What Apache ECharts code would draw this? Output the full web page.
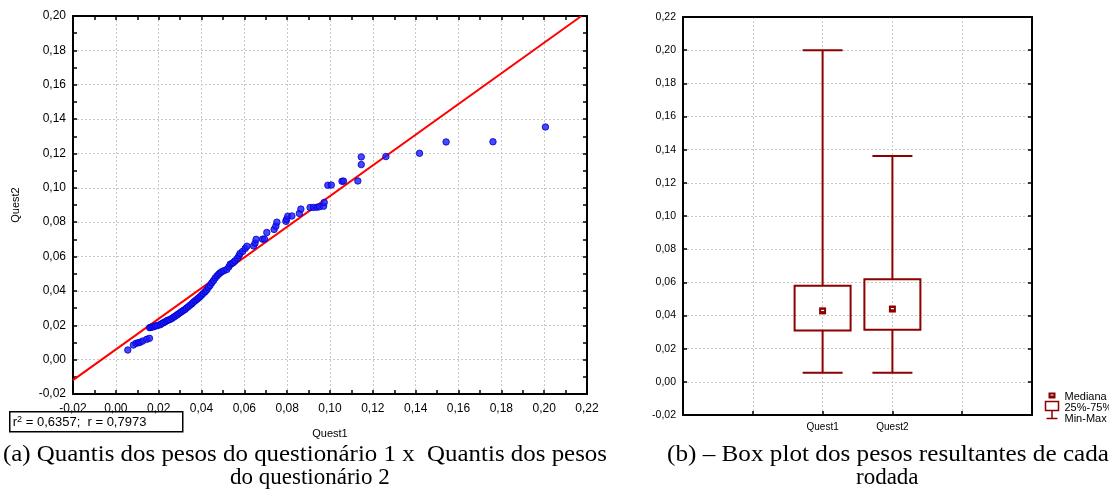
<!DOCTYPE html>
<html>
<head>
<meta charset="utf-8">
<script src="https://cdn.jsdelivr.net/npm/echarts@6/dist/echarts.min.js"></script>
<style>html,body{margin:0;padding:0;background:#fff;}#c{width:1109px;height:495px;}</style>
</head>
<body>
<div id="c"></div>
<script>
// ---- Data ----
var quest1Quantiles = [0.0056,0.0082,0.0094,0.0105,0.0113,0.0125,0.0144,0.0157,0.0158,0.0163,0.0170,0.0178,0.0185,0.0195,0.0207,0.0215,0.0222,0.0230,0.0238,0.0245,0.0253,0.0262,0.0270,0.0277,0.0285,0.0292,0.0300,0.0308,0.0315,0.0323,0.0330,0.0338,0.0347,0.0355,0.0362,0.0370,0.0378,0.0385,0.0393,0.0400,0.0408,0.0417,0.0424,0.0432,0.0440,0.0448,0.0456,0.0464,0.0472,0.0480,0.0487,0.0495,0.0505,0.0518,0.0528,0.0534,0.0542,0.0549,0.0556,0.0568,0.0575,0.0580,0.0592,0.0604,0.0612,0.0643,0.0650,0.0655,0.0685,0.0694,0.0705,0.0739,0.0747,0.0752,0.0794,0.0797,0.0803,0.0822,0.0857,0.0864,0.0907,0.0923,0.0939,0.0951,0.0970,0.0973,0.0990,0.1006,0.1056,0.1063,0.1130,0.1146,0.1146,0.1261,0.1418,0.1542,0.1761,0.2006];
var quest2Quantiles = [0.0056,0.0085,0.0095,0.0098,0.0101,0.0108,0.0118,0.0124,0.0186,0.0188,0.0190,0.0192,0.0196,0.0199,0.0203,0.0210,0.0215,0.0220,0.0226,0.0230,0.0234,0.0240,0.0247,0.0253,0.0260,0.0266,0.0273,0.0280,0.0286,0.0292,0.0300,0.0308,0.0317,0.0325,0.0334,0.0342,0.0350,0.0358,0.0366,0.0375,0.0385,0.0395,0.0405,0.0420,0.0432,0.0447,0.0460,0.0475,0.0487,0.0497,0.0505,0.0512,0.0518,0.0525,0.0540,0.0555,0.0560,0.0565,0.0575,0.0590,0.0605,0.0618,0.0630,0.0647,0.0660,0.0662,0.0678,0.0700,0.0701,0.0702,0.0740,0.0758,0.0777,0.0800,0.0805,0.0816,0.0835,0.0836,0.0851,0.0876,0.0885,0.0886,0.0887,0.0890,0.0893,0.0915,0.1015,0.1016,0.1038,0.1039,0.1040,0.1135,0.1180,0.1182,0.1201,0.1267,0.1268,0.1354];
var fitLineX = [-0.02, 0.2174];
var fitLineY = [-0.0119, 0.20];
var statsText = ['0,6357', '0,7973'];

var boxCategories = ['Quest1', 'Quest2'];
var boxPositions = [2, 3];
var boxMin = [0.0055, 0.0055];
var boxQ1 = [0.0310, 0.0314];
var boxMedian = [0.0428, 0.0439];
var boxQ3 = [0.0579, 0.0619];
var boxMax = [0.2000, 0.1362];
var legendLabels = ['Mediana', '25%-75%', 'Min-Max'];

var leftTicks = {min: -0.02, max: 0.22, interval: 0.02};
var leftYTicks = {min: -0.02, max: 0.20, interval: 0.02};
var rightYTicks = {min: -0.02, max: 0.22, interval: 0.02};

// ---- Build ----
function fmt(v) { return v.toFixed(2).replace('.', ','); }
var scatterData = quest1Quantiles.map(function (x, i) { return [x, quest2Quantiles[i]]; });
var lineData = fitLineX.map(function (x, i) { return [x, fitLineY[i]]; });
var boxData = boxPositions.map(function (p, i) { return [p, boxMin[i], boxQ1[i], boxMedian[i], boxQ3[i], boxMax[i]]; });

var DR = '#8c0000';
var gridLine = {show: true, lineStyle: {color: '#c8c8c8', type: [2, 2], width: 1}};
var font = 'Liberation Sans, Arial, sans-serif';
var serif = '23px "Liberation Serif", "Times New Roman", serif';

function frameAxis(pos, gridIndex, lim, showLabel, labelSize, extra) {
  var a = {
    type: 'value', gridIndex: gridIndex, position: pos,
    min: lim.min, max: lim.max, interval: lim.interval,
    axisLine: {show: true, onZero: false, lineStyle: {color: '#000', width: 2}},
    axisTick: {show: true, inside: true, length: 4, lineStyle: {color: '#000', width: 1.5}},
    minorTick: {show: true, splitNumber: 2, length: 4, lineStyle: {color: '#000', width: 1.5}},
    splitLine: {show: false},
    axisLabel: {show: showLabel, formatter: fmt, color: '#000', fontSize: labelSize, fontFamily: font, margin: 7}
  };
  for (var k in extra) a[k] = extra[k];
  return a;
}

var chart = echarts.init(document.getElementById('c'), null, {renderer: 'canvas'});
var option = {
  animation: false,
  backgroundColor: '#fff',
  grid: [
    {left: 73, top: 16, width: 514, height: 378},
    {left: 683, top: 17, width: 349, height: 398}
  ],
  xAxis: [
    frameAxis('bottom', 0, leftTicks, true, 12, {
      splitLine: gridLine, name: 'Quest1', nameLocation: 'middle', nameGap: 34,
      nameTextStyle: {color: '#000', fontSize: 11, fontFamily: font},
      axisLabel: {formatter: fmt, color: '#000', fontSize: 12, fontFamily: font, margin: 9}
    }),
    frameAxis('top', 0, leftTicks, false, 12, {}),
    {
      type: 'value', gridIndex: 1, position: 'bottom', min: 0, max: 5, interval: 1,
      axisLine: {show: true, onZero: false, lineStyle: {color: '#000', width: 2}},
      axisTick: {show: true, inside: true, length: 4, lineStyle: {color: '#000', width: 1.5}},
      splitLine: gridLine,
      axisLabel: {
        color: '#000', fontSize: 10, fontFamily: font, margin: 7,
        formatter: function (v) { var i = boxPositions.indexOf(v); return i >= 0 ? boxCategories[i] : ''; }
      }
    },
    {
      type: 'value', gridIndex: 1, position: 'top', min: 0, max: 5, interval: 1,
      axisLine: {show: true, onZero: false, lineStyle: {color: '#000', width: 2}},
      axisTick: {show: false}, axisLabel: {show: false}, splitLine: {show: false}
    }
  ],
  yAxis: [
    frameAxis('left', 0, leftYTicks, true, 12, {
      splitLine: gridLine, name: 'Quest2', nameLocation: 'middle', nameGap: 52,
      nameTextStyle: {color: '#000', fontSize: 11, fontFamily: font}
    }),
    frameAxis('right', 0, leftYTicks, false, 12, {}),
    frameAxis('left', 1, rightYTicks, true, 10.5, {splitLine: gridLine, minorTick: {show: false}}),
    frameAxis('right', 1, rightYTicks, false, 10.5, {minorTick: {show: false}})
  ],
  series: [
    {
      type: 'line', xAxisIndex: 0, yAxisIndex: 0, data: lineData, symbol: 'none',
      lineStyle: {color: '#ff0000', width: 2}, clip: true, z: 3
    },
    {
      type: 'scatter', xAxisIndex: 0, yAxisIndex: 0, data: scatterData, symbol: 'circle', symbolSize: 6.5,
      itemStyle: {color: '#1a1aff', borderColor: '#0000c8', borderWidth: 1}, z: 4
    },
    {
      type: 'custom', xAxisIndex: 2, yAxisIndex: 2, data: boxData, clip: false,
      renderItem: function (params, api) {
        var x = api.coord([api.value(0), 0])[0];
        var yMin = api.coord([0, api.value(1)])[1];
        var yQ1 = api.coord([0, api.value(2)])[1];
        var yMed = api.coord([0, api.value(3)])[1];
        var yQ3 = api.coord([0, api.value(4)])[1];
        var yMax = api.coord([0, api.value(5)])[1];
        var bw = 28, cw = 20;
        var ls = {stroke: DR, lineWidth: 2, fill: null};
        return {
          type: 'group', children: [
            {type: 'line', shape: {x1: x, y1: yMax, x2: x, y2: yQ3}, style: ls},
            {type: 'line', shape: {x1: x, y1: yQ1, x2: x, y2: yMin}, style: ls},
            {type: 'line', shape: {x1: x - cw, y1: yMax, x2: x + cw, y2: yMax}, style: ls},
            {type: 'line', shape: {x1: x - cw, y1: yMin, x2: x + cw, y2: yMin}, style: ls},
            {type: 'rect', shape: {x: x - bw, y: yQ3, width: 2 * bw, height: yQ1 - yQ3}, style: {stroke: DR, lineWidth: 2, fill: 'rgba(0,0,0,0)'}},
            {type: 'rect', shape: {x: x - 3.5, y: yMed - 3.5, width: 7, height: 7}, style: {fill: DR}},
            {type: 'rect', shape: {x: x - 1.5, y: yMed - 1, width: 3, height: 1.2}, style: {fill: '#fff'}}
          ]
        };
      }
    }
  ],
  graphic: [
    {
      type: 'group', left: 9, top: 411, children: [
        {type: 'rect', shape: {x: 0, y: 0, width: 173, height: 20}, style: {fill: '#fff', stroke: '#000', lineWidth: 1.5}},
        {type: 'text', x: 3, y: 11, style: {
          text: 'r{s|2} = ' + statsText[0] + ';  r = ' + statsText[1],
          verticalAlign: 'middle', fill: '#000', font: '13px ' + font,
          rich: {s: {fontSize: 9, verticalAlign: 'top', padding: [0, 0, 7, 0], fontFamily: font}}
        }}
      ]
    },
    // legend for box plot
    {type: 'group', left: 1044, top: 391, children: [
      {type: 'rect', shape: {x: 3, y: 1, width: 7, height: 6}, style: {fill: DR}},
      {type: 'rect', shape: {x: 5, y: 3, width: 3, height: 1}, style: {fill: '#fff'}},
      {type: 'rect', shape: {x: 0, y: 10, width: 13, height: 9}, style: {fill: 'rgba(0,0,0,0)', stroke: DR, lineWidth: 1.5}},
      {type: 'line', shape: {x1: 6.5, y1: 19, x2: 6.5, y2: 27}, style: {stroke: DR, lineWidth: 1.5}},
      {type: 'line', shape: {x1: 1, y1: 27, x2: 12, y2: 27}, style: {stroke: DR, lineWidth: 1.5}},
      {type: 'text', x: 19, y: 5, style: {text: legendLabels[0], fill: '#000', font: '11px ' + font, verticalAlign: 'middle'}},
      {type: 'text', x: 19, y: 16, style: {text: legendLabels[1], fill: '#000', font: '11px ' + font, verticalAlign: 'middle'}},
      {type: 'text', x: 19, y: 27, style: {text: legendLabels[2], fill: '#000', font: '11px ' + font, verticalAlign: 'middle'}}
    ]},
    // captions
    {type: 'text', x: 3, y: 455, scaleX: 1.083, originX: 0, style: {text: '(a) Quantis dos pesos do questionário 1 x  Quantis dos pesos', fill: '#000', font: serif, verticalAlign: 'middle'}},
    {type: 'text', x: 230, y: 478, style: {text: 'do questionário 2', fill: '#000', font: serif, verticalAlign: 'middle'}},
    {type: 'text', x: 667, y: 455, scaleX: 1.095, originX: 0, style: {text: '(b) – Box plot dos pesos resultantes de cada', fill: '#000', font: serif, verticalAlign: 'middle'}},
    {type: 'text', x: 856, y: 478, style: {text: 'rodada', fill: '#000', font: serif, verticalAlign: 'middle'}}
  ]
};
chart.setOption(option);
</script>
</body>
</html>
